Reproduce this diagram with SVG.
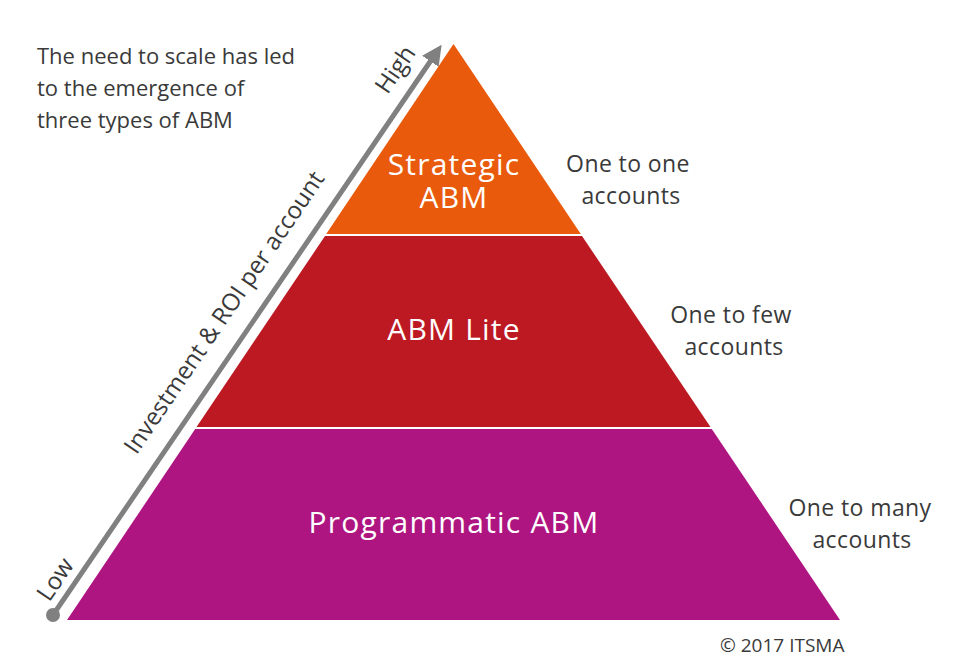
<svg xmlns="http://www.w3.org/2000/svg" width="955" height="669" viewBox="0 0 955 669">
<style>
.t{font-family:"Open Sans","Noto Sans",sans-serif;fill:#3a3a3a;}
.w{font-family:"Open Sans","Noto Sans",sans-serif;fill:#ffffff;font-size:30px;letter-spacing:1.2px;text-anchor:middle;}
.side{font-size:23px;letter-spacing:0.4px;text-anchor:middle;}
</style>
<defs>
<marker id="ah" viewBox="0 0 10 10" refX="5" refY="5" markerWidth="4" markerHeight="4" orient="auto" markerUnits="strokeWidth">
<path d="M0,0 L10,5 L0,10 z" fill="#808080"/>
</marker>
</defs>
<rect width="955" height="669" fill="#ffffff"/>
<g id="intro">
<text class="t" font-size="22" x="37" y="64">The need to scale has led</text>
<text class="t" font-size="22" x="37" y="96">to the emergence of</text>
<text class="t" font-size="22" x="37" y="128">three types of ABM</text>
</g>
<g id="connectors">
<line x1="53" y1="615" x2="436" y2="53" stroke="#808080" stroke-width="5" marker-end="url(#ah)"/>
<circle cx="53" cy="615" r="7" fill="#808080"/>
</g>
<g id="axis-labels">
<text class="t" font-size="24" text-anchor="middle" transform="translate(231,317) rotate(-55.7)">Investment &amp; ROI per account</text>
<text class="t" font-size="24" text-anchor="middle" transform="translate(402,74) rotate(-55.7)">High</text>
<text class="t" font-size="24" text-anchor="middle" transform="translate(62,584) rotate(-55.7)">Low</text>
</g>
<g id="strategic">
<polygon points="453.5,44 580.8,234 326.2,234" fill="#E95A0C"/>
<text class="w" x="454" y="175">Strategic</text>
<text class="w" x="454" y="208">ABM</text>
</g>
<g id="lite">
<polygon points="325,236 582,236 710.5,427 196.5,427" fill="#BD1922"/>
<text class="w" x="454" y="340">ABM Lite</text>
</g>
<g id="programmatic">
<polygon points="195.2,429 711.8,429 840,620 67,620" fill="#AE1581"/>
<text class="w" x="454" y="533">Programmatic ABM</text>
</g>
<g id="side-labels">
<text class="t side" x="628" y="172">One to one</text>
<text class="t side" x="631" y="204">accounts</text>
<text class="t side" x="731" y="323">One to few</text>
<text class="t side" x="734" y="355">accounts</text>
<text class="t side" x="860" y="516">One to many</text>
<text class="t side" x="862" y="548">accounts</text>
</g>
<g id="copyright">
<text class="t" font-size="19" x="720" y="652">© 2017 ITSMA</text>
</g>
</svg>
